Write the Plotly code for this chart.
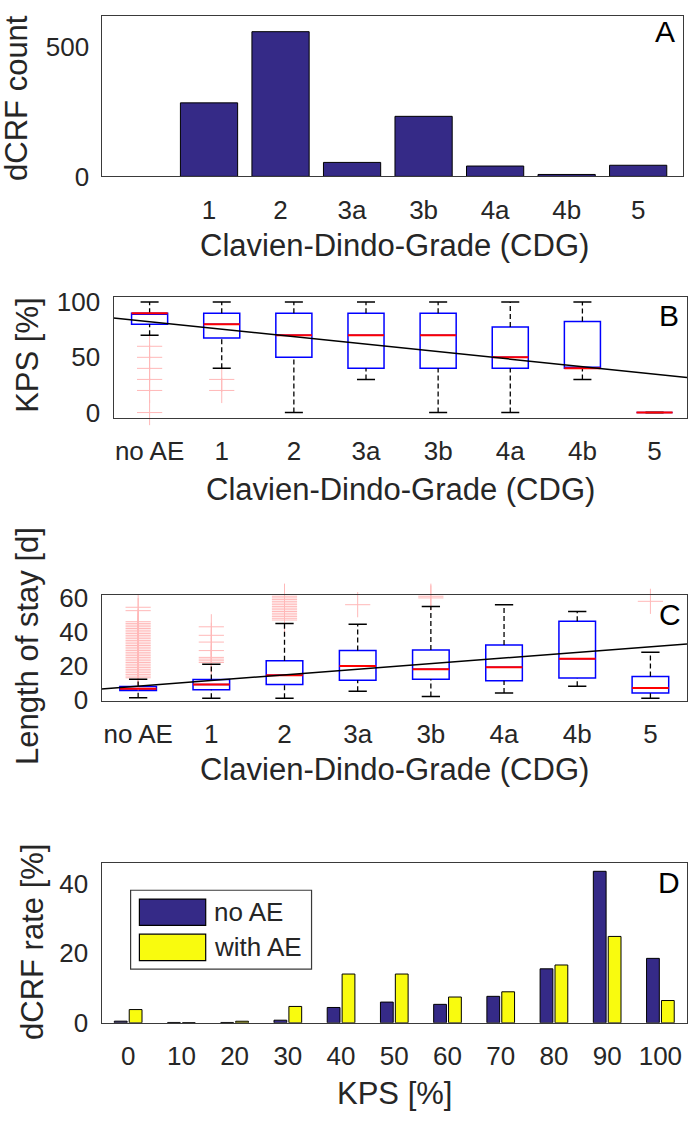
import plotly.graph_objects as go

W, H = 688, 1127
NAVY = "#352a87"
YELLOW = "#f9fb0e"
BLUE = "#0000ff"
RED = "#ff0000"
PINK = "#ffb8b8"
INK = "#262626"
FRAME = "#3a3a3a"
FONT = "Liberation Sans, Arial, Helvetica, sans-serif"

# ---- data -------------------------------------------------------------
cdg = ["no AE", "1", "2", "3a", "3b", "4a", "4b", "5"]

# A: dCRF count per CDG (no bar for 'no AE')
dcrf_count = [None, 284, 559, 54, 232, 40, 7.5, 43]

# B: KPS [%] box statistics per CDG
kps_lo = [70, 40, 0, 30, 0, 0, 30, 0]
kps_q1 = [80, 67.5, 50, 40, 40, 40, 40, 0]
kps_med = [90, 80, 70, 70, 70, 50, 40, 0]
kps_q3 = [90, 90, 90, 90, 90, 77.5, 82.5, 0]
kps_hi = [100, 100, 100, 100, 100, 100, 100, 0]
kps_out = [[60, 50, 40, 30, 20, 0], [30, 20], [], [], [], [], [], []]
kps_fit = (82.2, -6.77)  # intercept, slope per grade step

# C: length of stay [d] box statistics per CDG
los_lo = [1.3, 1, 1, 5, 2, 4, 8, 1]
los_q1 = [5.5, 6, 9, 11.6, 12.2, 11.2, 12.8, 4]
los_med = [6.5, 9, 14.5, 20, 18, 19.2, 24.2, 7]
los_q3 = [7.9, 12, 23, 29, 29.4, 32.3, 46.2, 13.7]
los_hi = [12.2, 21, 45, 44.5, 55, 56, 52, 28]
los_out = [
    [13, 14, 15, 16, 17, 18, 19, 20, 21, 22, 23, 24, 25, 26, 27, 28, 29, 30,
     31, 32, 33, 34, 35, 36, 37, 38, 39, 40, 41, 42, 43, 44, 45, 46, 52.5, 54.5],
    [22, 23, 24, 25, 29, 34, 38, 43],
    [47, 48, 49, 50, 51, 52, 53, 54, 55, 56, 57, 58, 59, 60, 61],
    [56],
    [60, 61],
    [],
    [],
    [58],
]
los_fit = (8.1, 3.3)

# D: dCRF rate [%] per KPS
kps_bins = [0, 10, 20, 30, 40, 50, 60, 70, 80, 90, 100]
rate_no_ae = [0.47, 0.1, 0.1, 0.75, 4.4, 5.95, 5.3, 7.6, 15.5, 43.5, 18.5]
rate_with_ae = [3.8, 0.05, 0.45, 4.7, 14.0, 14.0, 7.4, 8.9, 16.6, 24.8, 6.4]


def px(x):
    return x / W


def py(y):
    return 1 - y / H


fig = go.Figure()
pos = list(range(len(cdg)))

# ---- A ----------------------------------------------------------------
fig.add_trace(go.Bar(
    x=pos, y=dcrf_count, width=0.8, marker=dict(color=NAVY, line=dict(color="black", width=1)),
    xaxis="x", yaxis="y", showlegend=False, hoverinfo="skip"))


def box_panel(ax, lo, q1, med, q3, hi, out, fit, xr):
    xa, ya = ("x" + ax, "y" + ax)
    fig.add_trace(go.Box(
        x=pos, q1=q1, median=med, q3=q3, lowerfence=q1, upperfence=q3,
        width=0.5, whiskerwidth=0, boxpoints=False,
        line=dict(color=BLUE, width=1.5), fillcolor="rgba(0,0,0,0)",
        xaxis=xa, yaxis=ya, showlegend=False, hoverinfo="skip"))
    wx, wy, cx, cy, mx, my, ox, oy = [], [], [], [], [], [], [], []
    for i in pos:
        wx += [i, i, None, i, i, None]
        wy += [q3[i], hi[i], None, lo[i], q1[i], None]
        cx += [i - 0.125, i + 0.125, None, i - 0.125, i + 0.125, None]
        cy += [hi[i], hi[i], None, lo[i], lo[i], None]
        mx += [i - 0.25, i + 0.25, None]
        my += [med[i], med[i], None]
        ox += [i] * len(out[i])
        oy += out[i]
    fig.add_trace(go.Scatter(x=ox, y=oy, mode="markers", cliponaxis=False,
                             marker=dict(symbol="cross-thin", size=18, line=dict(color=PINK, width=1)),
                             xaxis=xa, yaxis=ya, showlegend=False, hoverinfo="skip"))
    fig.add_trace(go.Scatter(x=wx, y=wy, mode="lines", line=dict(color="black", width=1.3, dash="5px,3px"),
                             xaxis=xa, yaxis=ya, showlegend=False, hoverinfo="skip"))
    fig.add_trace(go.Scatter(x=cx, y=cy, mode="lines", line=dict(color="black", width=1.5),
                             xaxis=xa, yaxis=ya, showlegend=False, hoverinfo="skip"))
    fig.add_trace(go.Scatter(x=mx, y=my, mode="lines", line=dict(color=RED, width=2),
                             xaxis=xa, yaxis=ya, showlegend=False, hoverinfo="skip"))
    fx = [xr[0], xr[1]]
    fig.add_trace(go.Scatter(x=fx, y=[fit[0] + fit[1] * v for v in fx], mode="lines",
                             line=dict(color="black", width=1.5),
                             xaxis=xa, yaxis=ya, showlegend=False, hoverinfo="skip"))


B_XR = [-0.5, 7.45]
C_XR = [-0.5, 7.5]
box_panel("2", kps_lo, kps_q1, kps_med, kps_q3, kps_hi, kps_out, kps_fit, B_XR)
box_panel("3", los_lo, los_q1, los_med, los_q3, los_hi, los_out, los_fit, C_XR)

# ---- D ----------------------------------------------------------------
fig.add_trace(go.Bar(x=kps_bins, y=rate_no_ae, width=2.4, offset=-2.6,
                     marker=dict(color=NAVY, line=dict(color="black", width=1)),
                     xaxis="x4", yaxis="y4", showlegend=False, hoverinfo="skip"))
fig.add_trace(go.Bar(x=kps_bins, y=rate_with_ae, width=2.4, offset=0.2,
                     marker=dict(color=YELLOW, line=dict(color="black", width=1)),
                     xaxis="x4", yaxis="y4", showlegend=False, hoverinfo="skip"))

TICKF = dict(family=FONT, size=26, color=INK)
axbase = dict(showline=True, mirror=True, linecolor=FRAME, linewidth=1.2,
              showgrid=False, zeroline=False, ticks="", tickfont=TICKF, fixedrange=True)
XT = dict(ticklabelstandoff=10)
YT = dict(ticklabelstandoff=7)

fig.update_layout(
    width=W, height=H, margin=dict(l=0, r=0, t=0, b=0),
    paper_bgcolor="white", plot_bgcolor="white", barmode="overlay",
    font=dict(family=FONT, color=INK),
    xaxis=dict(axbase, **XT, domain=[px(102.6), px(683.5)], range=[-0.49, 7.62],
               tickvals=pos[1:], ticktext=cdg[1:], anchor="y"),
    yaxis=dict(axbase, **YT, domain=[py(169.3), py(5)], range=[0, 620],
               tickvals=[0, 500], anchor="x"),
    xaxis2=dict(axbase, **XT, domain=[px(113.7), 1], range=B_XR,
                tickvals=pos, ticktext=cdg, anchor="y2"),
    yaxis2=dict(axbase, **YT, domain=[py(416.7), py(292.3)], range=[-5, 105],
                tickvals=[0, 50, 100], anchor="x2"),
    xaxis3=dict(axbase, **XT, domain=[px(101.7), 1], range=C_XR,
                tickvals=pos, ticktext=cdg, anchor="y3"),
    yaxis3=dict(axbase, **YT, domain=[py(706), py(597.3)], range=[-0.5, 62],
                tickvals=[0, 20, 40, 60], anchor="x3"),
    xaxis4=dict(axbase, **XT, domain=[px(101.7), 1], range=[-5, 105],
                tickvals=kps_bins, anchor="y4"),
    yaxis4=dict(axbase, **YT, domain=[py(1035.7), py(871.7)], range=[0, 46],
                tickvals=[0, 20, 40], anchor="x4"),
)

TITLEF = dict(family=FONT, size=31, color=INK)
ann = [
    # x-axis titles
    ("Clavien-Dindo-Grade (CDG)", 395, 240, 0),
    ("Clavien-Dindo-Grade (CDG)", 401, 490, 0),
    ("Clavien-Dindo-Grade (CDG)", 395, 776, 0),
    ("KPS [%]", 395, 1108, 0),
    # y-axis titles
    ("dCRF count", 17, 89, -90),
    ("KPS [%]", 28, 352, -90),
    ("Length of stay [d]", 27, 650, -90),
    ("dCRF rate [%]", 32, 953, -90),
]
for text, x, y, ang in ann:
    fig.add_annotation(text=text, x=px(x), y=py(y), xref="paper", yref="paper",
                       xanchor="center", yanchor="middle", textangle=ang,
                       showarrow=False, font=TITLEF)

for text, x, y in [("A", 666, 21), ("B", 670, 312), ("C", 671, 618), ("D", 670, 892)]:
    fig.add_annotation(text=text, x=px(x), y=py(y), xref="paper", yref="paper",
                       xanchor="center", yanchor="middle", showarrow=False,
                       font=dict(family=FONT, size=30, color="black"))

# D legend (large patches as in the original)
fig.add_shape(type="rect", xref="paper", yref="paper", x0=px(130.8), x1=px(312), y0=py(980.7), y1=py(900),
              line=dict(color=FRAME, width=1.2), fillcolor="white")
for label, col, y0, y1 in [("no AE", NAVY, 909, 936), ("with AE", YELLOW, 945, 972)]:
    fig.add_shape(type="rect", xref="paper", yref="paper", x0=px(139.6), x1=px(206), y0=py(y1), y1=py(y0),
                  line=dict(color="black", width=1.2), fillcolor=col)
    fig.add_annotation(text=label, x=px(212), y=py((y0 + y1) / 2), xref="paper", yref="paper",
                       xanchor="left", yanchor="middle", showarrow=False, font=TICKF)

fig.write_html("out.html", config={"displayModeBar": False},
               post_script="document.body.style.margin='0';")
